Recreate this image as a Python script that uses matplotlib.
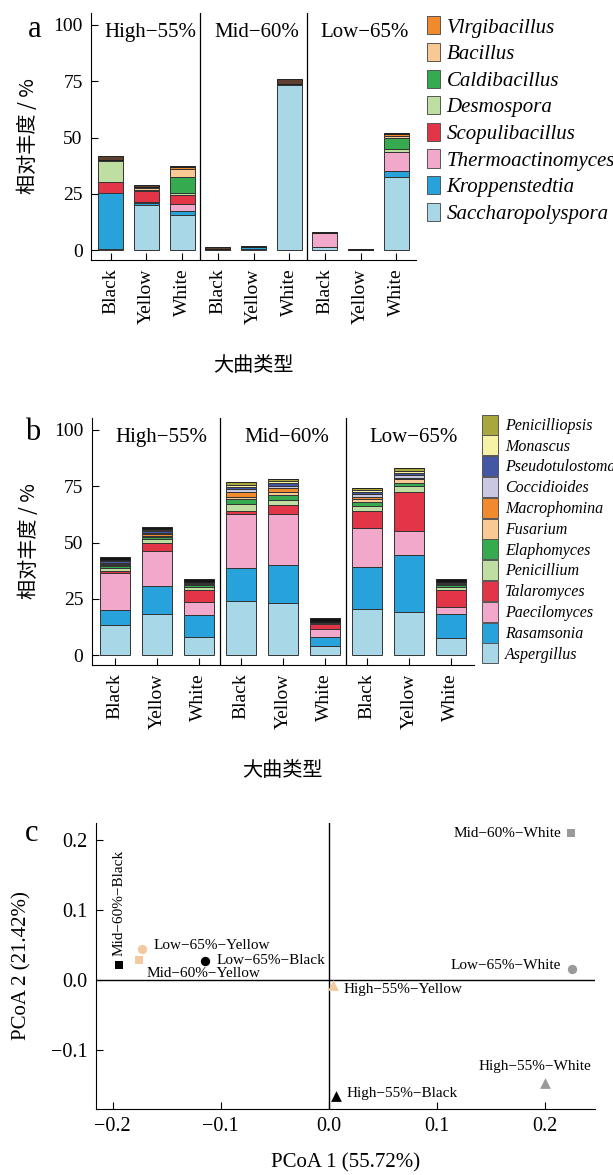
import numpy as np
import matplotlib
matplotlib.use('Agg')
import matplotlib.pyplot as plt
from matplotlib.patches import Patch
from matplotlib.ticker import FuncFormatter

plt.rcParams['font.family'] = ['Liberation Serif', 'Noto Sans CJK SC']
plt.rcParams['axes.unicode_minus'] = True

CJK = ['Noto Sans CJK SC', 'DejaVu Sans']

samples = ['Black', 'Yellow', 'White'] * 3
groups = ['High−55%', 'Mid−60%', 'Low−65%']

# panel a - bacteria, stacked bottom -> top
# order of samples: High(Black, Yellow, White), Mid(...), Low(...)
bac_names = ['Saccharopolyspora', 'Kroppenstedtia', 'Thermoactinomyces', 'Scopulibacillus',
             'Desmospora', 'Caldibacillus', 'Bacillus', 'Vlrgibacillus']
saccharopolyspora = [0.7, 20.0, 15.6, 0.2, 0.3, 73.5, 1.5, 0.1, 32.6]
kroppenstedtia = [24.5, 1.0, 1.7, 0.1, 1.2, 0.1, 0.1, 0.1, 2.4]
thermoactinomyces = [0.3, 0.2, 3.4, 0.1, 0.1, 0.4, 5.9, 0.0, 8.7]
scopulibacillus = [4.6, 5.2, 4.0, 0.0, 0.0, 0.0, 0.0, 0.0, 0.1]
desmospora = [9.6, 0.2, 0.6, 0.0, 0.0, 0.0, 0.0, 0.0, 1.0]
caldibacillus = [0.1, 0.0, 7.0, 0.0, 0.0, 0.0, 0.0, 0.0, 4.9]
bacillus = [0.1, 0.8, 3.7, 0.0, 0.0, 0.0, 0.0, 0.0, 0.8]
vlrgibacillus = [0.1, 0.7, 1.0, 0.0, 0.0, 0.0, 0.0, 0.0, 1.2]
bac_other = [1.8, 0.9, 0.2, 1.0, 0.4, 2.1, 0.6, 0.5, 0.5]
bac_colors = ['#A8D8E8', '#27A2DA', '#F2A8CB', '#E33548', '#BEDEA2', '#35AA4E', '#F8C995', '#F08A2C']

# panel b - fungi, stacked bottom -> top
fun_names = ['Aspergillus', 'Rasamsonia', 'Paecilomyces', 'Talaromyces', 'Penicillium',
             'Elaphomyces', 'Fusarium', 'Macrophomina', 'Coccidioides', 'Pseudotulostoma',
             'Monascus', 'Penicilliopsis']
aspergillus = [13.6, 18.1, 8.1, 24.1, 23.3, 4.0, 20.7, 19.3, 7.4]
rasamsonia = [6.4, 12.6, 9.7, 14.7, 16.7, 4.1, 18.3, 25.1, 10.8]
paecilomyces = [16.3, 15.7, 5.6, 23.7, 22.5, 3.3, 17.4, 10.7, 3.3]
talaromyces = [0.9, 3.2, 5.5, 1.6, 4.0, 2.4, 7.5, 17.2, 7.4]
penicillium = [1.6, 1.8, 1.2, 3.0, 2.4, 0.3, 2.3, 2.8, 1.5]
elaphomyces = [0.9, 1.2, 0.9, 2.1, 2.2, 0.1, 1.9, 1.5, 0.7]
fusarium = [0.4, 0.5, 0.3, 1.2, 1.2, 0.1, 1.4, 1.5, 0.3]
macrophomina = [0.3, 0.5, 0.2, 2.0, 1.8, 0.1, 0.9, 0.8, 0.2]
coccidioides = [0.4, 0.5, 0.2, 1.2, 1.0, 0.1, 1.2, 1.2, 0.2]
pseudotulostoma = [0.8, 0.9, 0.3, 0.9, 1.2, 0.1, 0.8, 0.9, 0.3]
monascus = [0.3, 0.5, 0.2, 1.1, 0.9, 0.1, 0.9, 0.9, 0.2]
penicilliopsis = [0.3, 0.6, 0.2, 1.1, 0.9, 0.1, 0.8, 1.1, 0.2]
fun_other = [1.2, 0.8, 1.2, 0.0, 0.0, 1.6, 0.0, 0.0, 1.3]
fun_colors = ['#A8D8E8', '#27A2DA', '#F2A8CB', '#E33548', '#BEDEA2', '#35AA4E', '#F8C995',
              '#F08A2C', '#C9C8E3', '#4457A4', '#F6F2A6', '#A9A63E']

# panel c - PCoA
pcoa_labels = ['High−55%−Black', 'High−55%−Yellow', 'High−55%−White',
               'Mid−60%−Black', 'Mid−60%−Yellow', 'Mid−60%−White',
               'Low−65%−Black', 'Low−65%−Yellow', 'Low−65%−White']
pc1 = [0.007, 0.004, 0.200, -0.194, -0.176, 0.224, -0.115, -0.173, 0.225]
pc2 = [-0.167, -0.008, -0.148, 0.022, 0.028, 0.210, 0.027, 0.044, 0.016]


def other_color(colors):
    return '#5E4030' if len(colors) == 8 else '#151515'


def stacked(ax, series, colors, other):
    x = np.arange(len(samples))
    bottom = np.zeros(len(samples))
    for v, c in zip(series, colors):
        ax.bar(x, v, 0.7, bottom=bottom, color=c, edgecolor='#333333', linewidth=0.7)
        bottom += np.array(v)
    ax.bar(x, other, 0.7, bottom=bottom, color=other_color(colors), edgecolor='#222222', linewidth=0.7)

    ax.set_xlim(-0.55, 8.55)
    ax.set_ylim(-4.4, 105.3)
    ax.set_yticks([0, 25, 50, 75, 100])
    ax.set_xticks(x)
    ax.set_xticklabels(samples, rotation=90)
    ax.tick_params(direction='in', length=5, labelsize=14, pad=6)
    for s in ['top', 'right']:
        ax.spines[s].set_visible(False)
    for s in (2.5, 5.5):
        ax.axvline(s, color='black', lw=0.9)
    for i, g in enumerate(groups):
        ax.text(i * 3 + 1.1, 96.5, g, ha='center', va='center', fontsize=15)
    ax.set_xlabel('大曲类型', family=CJK, fontsize=14.5)
    ax.set_ylabel('相对丰度 / %', family=CJK, fontsize=14.5)
    ax.xaxis.set_label_coords(0.5, -0.385)


fig = plt.figure(figsize=(6.13, 11.75), dpi=100)

# ---- a
ax1 = fig.add_axes([0.1485, 0.7787, 0.5302, 0.2102])
stacked(ax1, [saccharopolyspora, kroppenstedtia, thermoactinomyces, scopulibacillus,
              desmospora, caldibacillus, bacillus, vlrgibacillus], bac_colors, bac_other)
ax1.yaxis.set_label_coords(-0.16, 0.5)
h1 = [Patch(facecolor=c, edgecolor='#555555', linewidth=0.7) for c in bac_colors][::-1]
fig.legend(h1, bac_names[::-1], loc='upper left', bbox_to_anchor=(0.680, 0.995),
           frameon=False, borderpad=0, handlelength=0.63, handleheight=0.96,
           labelspacing=0.26, handletextpad=0.3,
           prop={'family': 'Liberation Serif', 'style': 'italic', 'size': 15})
fig.text(0.057, 0.975, 'a', fontsize=22, ha='center', va='center')

# ---- b
ax2 = fig.add_axes([0.1496, 0.4340, 0.6237, 0.2102])
stacked(ax2, [aspergillus, rasamsonia, paecilomyces, talaromyces, penicillium, elaphomyces,
              fusarium, macrophomina, coccidioides, pseudotulostoma, monascus, penicilliopsis],
        fun_colors, fun_other)
ax2.yaxis.set_label_coords(-0.135, 0.5)
h2 = [Patch(facecolor=c, edgecolor='#555555', linewidth=0.7) for c in fun_colors][::-1]
fig.legend(h2, fun_names[::-1], loc='upper left', bbox_to_anchor=(0.774, 0.654),
           frameon=False, borderpad=0, handlelength=0.95, handleheight=1.55,
           labelspacing=0.05, handletextpad=0.45,
           prop={'family': 'Liberation Serif', 'style': 'italic', 'size': 11.5})
fig.text(0.054, 0.632, 'b', fontsize=22, ha='center', va='center')

# ---- c
ax3 = fig.add_axes([0.1566, 0.0562, 0.814, 0.2434])
markers = {'High': '^', 'Mid': 's', 'Low': 'o'}
mcolors = {'Black': 'black', 'Yellow': '#F3C9A0', 'White': '#9A9A9A'}
msizes = {'High': 60, 'Mid': 38, 'Low': 45}
# label offsets (points) and alignment
offsets = {
    'High−55%−Black': ((7, 2), 'left', 'center', 0),
    'High−55%−Yellow': ((7.5, -3), 'left', 'center', 0),
    'High−55%−White': ((-7, 12), 'center', 'center', 0),
    'Mid−60%−Black': ((0, 6), 'center', 'bottom', 90),
    'Mid−60%−Yellow': ((5.5, -9.5), 'left', 'center', 0),
    'Mid−60%−White': ((-7, 0), 'right', 'center', 0),
    'Low−65%−Black': ((9, 0.7), 'left', 'center', 0),
    'Low−65%−Yellow': ((8.5, 3), 'left', 'center', 0),
    'Low−65%−White': ((-8, 2.5), 'right', 'center', 0),
}
ax3.axhline(0, color='black', lw=1)
ax3.axvline(0, color='black', lw=1)
for lab, x, y in zip(pcoa_labels, pc1, pc2):
    lvl = lab.split('−')[0]
    col = lab.split('−')[-1]
    ax3.scatter(x, y, marker=markers[lvl], s=msizes[lvl], color=mcolors[col], zorder=3, linewidths=0)
    off, ha, va, rot = offsets[lab]
    ax3.annotate(lab, (x, y), xytext=off, textcoords='offset points', ha=ha, va=va,
                 rotation=rot, fontsize=11)
ax3.set_xlim(-0.2154, 0.2462)
ax3.set_ylim(-0.185, 0.225)
ax3.set_xticks([-0.2, -0.1, 0.0, 0.1, 0.2])
ax3.set_yticks([-0.1, 0.0, 0.1, 0.2])
fmt = FuncFormatter(lambda v, p: ('%.1f' % v).replace('-', '−'))
ax3.xaxis.set_major_formatter(fmt)
ax3.yaxis.set_major_formatter(fmt)
ax3.tick_params(direction='in', length=5, labelsize=14.5, pad=6)
for s in ['top', 'right']:
    ax3.spines[s].set_visible(False)
ax3.set_xlabel('PCoA 1 (55.72%)', fontsize=15)
ax3.set_ylabel('PCoA 2 (21.42%)', fontsize=15)
ax3.xaxis.set_label_coords(0.5, -0.155)
ax3.yaxis.set_label_coords(-0.13, 0.5)
fig.text(0.051, 0.291, 'c', fontsize=22, ha='center', va='center')

fig.savefig('out.png', dpi=100)
